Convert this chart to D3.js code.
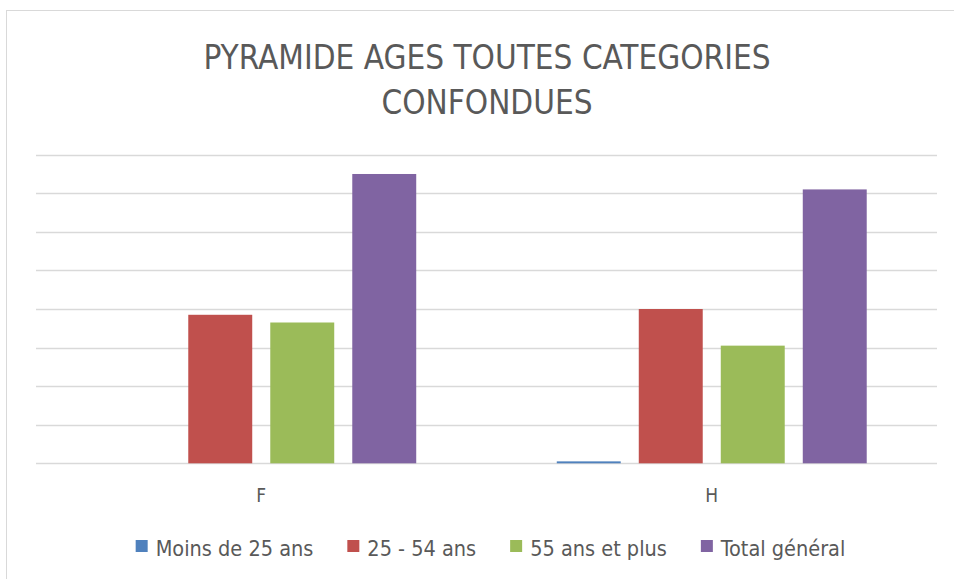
<!DOCTYPE html>
<html>
<head>
<meta charset="utf-8">
<script src="https://cdn.jsdelivr.net/npm/d3@7"></script>
<style>
    body { margin: 0; background: #fff; }
    svg text { font-family: "Liberation Sans Narrow", "DejaVu Sans Condensed", "Open Sans", sans-serif; fill: #595959; }
</style>
</head>
<body>
<svg id="chart" width="954" height="579"></svg>
<script>
const CATEGORIES = ['F', 'H']
const SERIES = ['Moins de 25 ans', '25 - 54 ans', '55 ans et plus', 'Total général']
const COLORS = ['#4f81bd', '#c0504d', '#9bbb59', '#8064a2']
// values per series, in category order (F, H)
const MOINS_25 = [0, 1]
const AGE_25_54 = [77, 80]
const AGE_55_PLUS = [73, 61]
const TOTAL = [150, 142]
const Y_TICKS = [0, 20, 40, 60, 80, 100, 120, 140, 160]
const TITLE_LINES = ['PYRAMIDE AGES TOUTES CATEGORIES', 'CONFONDUES']

const seriesValues = [MOINS_25, AGE_25_54, AGE_55_PLUS, TOTAL]

const svg = d3.select('#chart')

// chart area frame
svg.append('rect')
    .attr('x', 6.5)
    .attr('y', 10.5)
    .attr('width', 960)
    .attr('height', 580)
    .attr('fill', '#fff')
    .attr('stroke', '#d9d9d9')
    .attr('stroke-width', 1)

const plot = { left: 36, right: 937, top: 154.7, bottom: 463.3 }

const x0 = d3.scaleBand()
    .domain(CATEGORIES)
    .range([plot.left, plot.right])

const x1 = d3.scaleBand()
    .domain(SERIES)
    .range([0, x0.bandwidth()])
    .paddingInner(0.22)
    .paddingOuter(0.857)

const y = d3.scaleLinear()
    .domain([0, 160])
    .range([plot.bottom, plot.top])

// gridlines
svg.append('g')
    .attr('class', 'grid')
    .selectAll('line')
    .data(Y_TICKS)
    .join('line')
    .attr('x1', plot.left)
    .attr('x2', plot.right)
    .attr('y1', d => Math.round(y(d)) + 0.5)
    .attr('y2', d => Math.round(y(d)) + 0.5)
    .attr('stroke', '#d9d9d9')
    .attr('stroke-width', 1.3)

// bars
const groups = svg.append('g')
    .selectAll('g')
    .data(CATEGORIES)
    .join('g')
    .attr('transform', d => `translate(${x0(d)},0)`)

groups.selectAll('rect')
    .data((cat, ci) => SERIES.map((s, si) => ({ s, si, v: seriesValues[si][ci] })))
    .join('rect')
    .attr('x', d => x1(d.s))
    .attr('width', x1.bandwidth())
    .attr('y', d => y(d.v))
    .attr('height', d => y(0) - y(d.v))
    .attr('fill', d => COLORS[d.si])

// category labels
svg.append('g')
    .selectAll('text')
    .data(CATEGORIES)
    .join('text')
    .attr('x', d => x0(d) + x0.bandwidth() / 2)
    .attr('y', 502)
    .attr('text-anchor', 'middle')
    .style('font-size', '19px')
    .text(d => d)

// title
svg.append('g')
    .selectAll('text')
    .data(TITLE_LINES)
    .join('text')
    .attr('x', 487)
    .attr('y', (d, i) => 69 + i * 45)
    .attr('text-anchor', 'middle')
    .style('font-size', '33px')
    .text(d => d)

// legend
const legend = svg.append('g').attr('class', 'legend')
let cursor = 0
SERIES.forEach((s, i) => {
    const item = legend.append('g').attr('transform', `translate(${cursor},0)`)
    item.append('rect')
        .attr('x', 0)
        .attr('y', 540)
        .attr('width', 12)
        .attr('height', 12)
        .attr('fill', COLORS[i])
    const t = item.append('text')
        .attr('x', 20)
        .attr('y', 556)
        .style('font-size', '21.5px')
        .text(s)
    cursor += 20 + t.node().getComputedTextLength() + 34
})
const legendWidth = cursor - 34
legend.attr('transform', `translate(${490.5 - legendWidth / 2},0)`)
</script>
</body>
</html>
